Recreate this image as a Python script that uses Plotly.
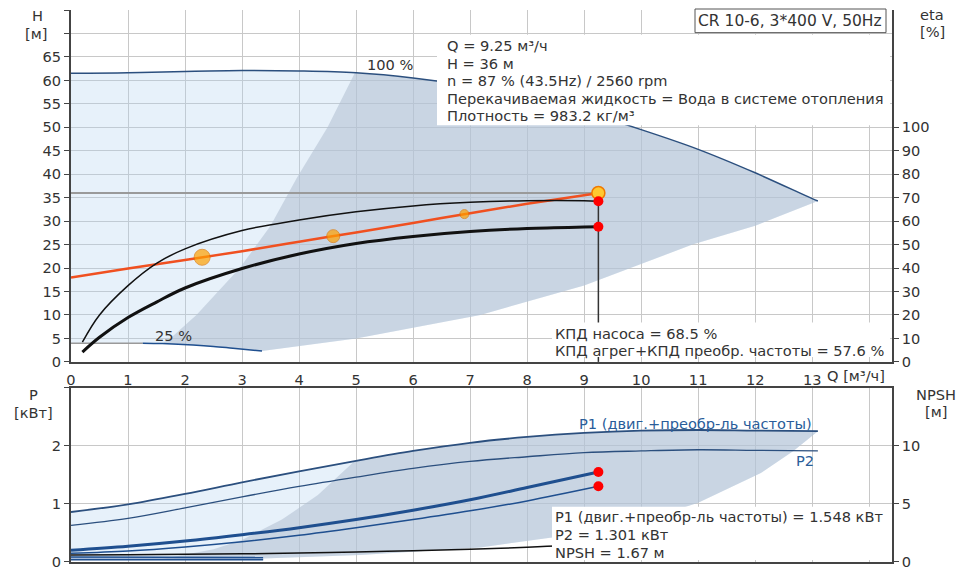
import plotly.graph_objects as go

# ---------------- data ----------------
# Q axis [m3/h]
q_100 = [0, 1, 2, 3, 4, 5, 6, 7, 8, 9, 10, 11, 12, 13, 13.1]
h_100 = [61.5, 61.6, 61.9, 62.1, 62.0, 61.6, 60.5, 58.8, 56.5, 53.3, 49.5, 45.3, 40.3, 34.8, 34.3]

q_25 = [0, 0.5, 1.0, 1.26, 1.6, 2.14, 2.5, 2.84, 3.35]
h_25 = [3.95, 3.97, 4.0, 4.0, 3.9, 3.6, 3.3, 2.9, 2.3]

# left edge of recommended (grey) area, top chart
q_min_edge = [1.6, 1.74, 2.2, 2.96, 3.5, 3.96, 4.5, 4.98]
h_min_edge = [3.9, 5.0, 10.0, 20.0, 29.0, 39.2, 50.0, 61.6]

# lower-right edge of operating area, top chart
q_max_edge = [3.35, 5.0, 7.18, 9.0, 10.9, 12.0, 13.1]
h_max_edge = [2.3, 5.0, 10.0, 16.3, 25.0, 29.0, 34.3]

# efficiency curves [%]
q_eta = [0.2, 0.5, 1, 1.5, 2, 3, 4, 5, 6, 7, 8, 9, 9.25]
eta_pump = [8.4, 20, 32.5, 42, 48.2, 56, 60.5, 64, 66.5, 68, 68.7, 68.7, 68.5]
eta_total = [4.2, 10.5, 18.9, 25.5, 31.5, 39.8, 46, 50.5, 53.5, 55.6, 56.9, 57.5, 57.6]

# system curve
q_sys = [0, 1, 2, 3, 4, 5, 6, 7, 8, 9, 9.25]
h_sys = [18, 19.9, 21.7, 23.6, 25.6, 27.6, 29.6, 31.7, 33.7, 35.5, 36]
q_sys_mk = [2.3, 4.6, 6.9]
h_sys_mk = [22.3, 26.8, 31.5]
size_sys_mk = [16, 13, 9]

# duty point
q_duty = 9.25
h_duty = 36
eta_pump_duty = 68.5
eta_total_duty = 57.6
p1_duty = 1.548
p2_duty = 1.301
npsh_duty = 1.67

# power curves [kW]
q_p = [0, 1, 2, 3, 4, 5, 6, 7, 8, 9, 10, 11, 12, 13.1]
p1_100 = [0.86, 0.99, 1.17, 1.37, 1.56, 1.74, 1.91, 2.05, 2.15, 2.22, 2.26, 2.27, 2.26, 2.25]
p2_100 = [0.63, 0.75, 0.93, 1.12, 1.30, 1.46, 1.61, 1.73, 1.81, 1.88, 1.91, 1.93, 1.92, 1.91]

q_p87 = [0, 1, 2, 3, 4, 5, 6, 7, 8, 9.25]
p1_87 = [0.2, 0.27, 0.36, 0.47, 0.59, 0.73, 0.89, 1.07, 1.28, 1.548]
p2_87 = [0.15, 0.19, 0.26, 0.35, 0.46, 0.59, 0.73, 0.88, 1.05, 1.301]

q_p25 = [0, 1, 2, 3, 3.37]
p1_25 = [0.085, 0.085, 0.083, 0.08, 0.078]
p2_25 = [0.04, 0.04, 0.04, 0.04, 0.04]

q_pmin_edge = [1.6, 2.5, 3.0, 3.7, 4.33, 4.98]
p_pmin_edge = [0.05, 0.22, 0.38, 0.73, 1.15, 1.74]
q_pmax_edge = [3.37, 5.07, 7.18, 8.5, 10.1, 11, 12.1, 12.67, 13.1]
p_pmax_edge = [0.06, 0.12, 0.25, 0.43, 0.73, 1.02, 1.53, 1.91, 2.25]

q_npsh = [0, 1, 2, 3, 4, 5, 6, 7, 8, 9, 9.25]
npsh = [0.6, 0.62, 0.66, 0.7, 0.77, 0.86, 0.97, 1.1, 1.27, 1.53, 1.67]

q_ticks = list(range(0, 15))
h_ticks = list(range(0, 80, 5))
eta_ticks = list(range(0, 110, 10))

# ---------------- layout helpers ----------------
W, H = 960, 577
ML, MR, MT, MB = 71, 68, 10, 7
PW = W - ML - MR
PH = H - MT - MB


def px(x):
    return (x - ML) / PW


def py(y):
    return (H - MB - y) / PH


FONT = "DejaVu Sans, Verdana, sans-serif"
TXT = "#333333"
FS = 14.6
TFS = 14.6
LIGHT = "rgba(180,210,240,0.32)"
GREY = "rgba(179,193,210,0.58)"
CURVE = "#2b4f7e"
BLUE = "#1f4f8f"
GRID = "#c8c8c8"
SPL = "spline"

fig = go.Figure()

# ---- top chart fills ----
light_q = q_100 + q_max_edge[::-1] + q_25[::-1]
light_h = h_100 + h_max_edge[::-1] + h_25[::-1]
fig.add_trace(go.Scatter(x=light_q, y=light_h, fill="toself", fillcolor=LIGHT,
                         mode="lines", line=dict(width=0), hoverinfo="skip",
                         xaxis="x", yaxis="y"))
top_part_q = [q for q in q_100 if q > q_min_edge[-1]]
top_part_h = [h for q, h in zip(q_100, h_100) if q > q_min_edge[-1]]
bot_part = [(q, h) for q, h in zip(q_25, h_25) if q >= q_min_edge[0]][::-1]
grey_q = q_min_edge + top_part_q + q_max_edge[::-1][1:] + [b[0] for b in bot_part]
grey_h = h_min_edge + top_part_h + h_max_edge[::-1][1:] + [b[1] for b in bot_part]
fig.add_trace(go.Scatter(x=grey_q, y=grey_h, fill="toself", fillcolor=GREY,
                         mode="lines", line=dict(width=0), hoverinfo="skip",
                         xaxis="x", yaxis="y"))

# ---- top chart curves ----
fig.add_trace(go.Scatter(x=q_100, y=h_100, mode="lines",
                         line=dict(color=CURVE, width=1.5, shape=SPL), xaxis="x", yaxis="y"))
q25a = [q for q in q_25 if q <= 1.26]
h25a = [h for q, h in zip(q_25, h_25) if q <= 1.26]
q25b = [q for q in q_25 if q >= 1.26]
h25b = [h for q, h in zip(q_25, h_25) if q >= 1.26]
fig.add_trace(go.Scatter(x=q25a, y=h25a, mode="lines",
                         line=dict(color="#9a9a9a", width=1.5, shape=SPL), xaxis="x", yaxis="y"))
fig.add_trace(go.Scatter(x=q25b, y=h25b, mode="lines",
                         line=dict(color=BLUE, width=1.5, shape=SPL), xaxis="x", yaxis="y"))

# duty point lines
fig.add_trace(go.Scatter(x=[0, q_duty], y=[h_duty, h_duty], mode="lines",
                         line=dict(color="#9a9a9a", width=2), xaxis="x", yaxis="y"))
fig.add_trace(go.Scatter(x=[q_duty, q_duty], y=[h_duty, 0], mode="lines",
                         line=dict(color="#333333", width=1.5), xaxis="x", yaxis="y"))

# efficiency curves
fig.add_trace(go.Scatter(x=q_eta, y=eta_pump, mode="lines",
                         line=dict(color="#111111", width=1.5, shape=SPL), xaxis="x", yaxis="y2"))
fig.add_trace(go.Scatter(x=q_eta, y=eta_total, mode="lines",
                         line=dict(color="#111111", width=3, shape=SPL), xaxis="x", yaxis="y2"))

# system curve
fig.add_trace(go.Scatter(x=q_sys, y=h_sys, mode="lines",
                         line=dict(color="#f05020", width=2.5, shape=SPL), xaxis="x", yaxis="y"))
fig.add_trace(go.Scatter(x=q_sys_mk, y=h_sys_mk, mode="markers",
                         marker=dict(size=size_sys_mk, color="#ffa000",
                                     line=dict(color="#e07800", width=1)),
                         xaxis="x", yaxis="y"))
fig.add_trace(go.Scatter(x=[q_duty], y=[h_duty], mode="markers",
                         marker=dict(size=13, color="#ffc830",
                                     line=dict(color="#f07a00", width=1.5)),
                         xaxis="x", yaxis="y"))
fig.add_trace(go.Scatter(x=[q_duty, q_duty], y=[eta_pump_duty, eta_total_duty], mode="markers",
                         marker=dict(size=10, color="#ff0000"), xaxis="x", yaxis="y2"))

# ---- bottom chart fills ----
lb_q = q_p + q_pmax_edge[::-1][1:] + q_p25[::-1]
lb_p = p1_100 + p_pmax_edge[::-1][1:] + p2_25[::-1]
fig.add_trace(go.Scatter(x=lb_q, y=lb_p, fill="toself", fillcolor=LIGHT,
                         mode="lines", line=dict(width=0), hoverinfo="skip",
                         xaxis="x2", yaxis="y3"))
gtop_q = [q for q in q_p if q > q_pmin_edge[-1]]
gtop_p = [p for q, p in zip(q_p, p1_100) if q > q_pmin_edge[-1]]
gb_q = q_pmin_edge + gtop_q + q_pmax_edge[::-1][1:] + [q_pmin_edge[0]]
gb_p = p_pmin_edge + gtop_p + p_pmax_edge[::-1][1:] + [p2_25[0]]
fig.add_trace(go.Scatter(x=gb_q, y=gb_p, fill="toself", fillcolor=GREY,
                         mode="lines", line=dict(width=0), hoverinfo="skip",
                         xaxis="x2", yaxis="y3"))

# 25% power band
fig.add_trace(go.Scatter(x=q_p25, y=p2_25, mode="lines",
                         line=dict(color=BLUE, width=1.5), xaxis="x2", yaxis="y3"))
fig.add_trace(go.Scatter(x=q_p25, y=p1_25, mode="lines", fill="tonexty",
                         fillcolor="rgba(110,140,190,0.55)",
                         line=dict(color=BLUE, width=1.5), xaxis="x2", yaxis="y3"))

# NPSH
fig.add_trace(go.Scatter(x=q_npsh, y=npsh, mode="lines",
                         line=dict(color="#111111", width=1.5, shape=SPL), xaxis="x2", yaxis="y4"))

# power curves
fig.add_trace(go.Scatter(x=q_p, y=p1_100, mode="lines",
                         line=dict(color=CURVE, width=1.8, shape=SPL), xaxis="x2", yaxis="y3"))
fig.add_trace(go.Scatter(x=q_p, y=p2_100, mode="lines",
                         line=dict(color=CURVE, width=1.3, shape=SPL), xaxis="x2", yaxis="y3"))
fig.add_trace(go.Scatter(x=q_p87, y=p1_87, mode="lines",
                         line=dict(color=BLUE, width=3, shape=SPL), xaxis="x2", yaxis="y3"))
fig.add_trace(go.Scatter(x=q_p87, y=p2_87, mode="lines",
                         line=dict(color=BLUE, width=1.5, shape=SPL), xaxis="x2", yaxis="y3"))
fig.add_trace(go.Scatter(x=[q_duty, q_duty], y=[p1_duty, p2_duty], mode="markers",
                         marker=dict(size=10, color="#ff0000"), xaxis="x2", yaxis="y3"))

# ---------------- axes ----------------
tickfont = dict(family=FONT, size=TFS, color=TXT)
q_text = [str(v) for v in q_ticks[:-1]] + [""]
h_text = [str(v) if v <= 65 else "" for v in h_ticks]

common_x = dict(range=[0, 14.4], tickvals=q_ticks, showgrid=True, gridcolor=GRID,
                gridwidth=1, zeroline=False, showline=True, linecolor="#444444",
                linewidth=2, ticks="", tickfont=tickfont, fixedrange=True)

fig.update_layout(
    width=W, height=H,
    margin=dict(l=ML, r=MR, t=MT, b=MB, pad=0),
    paper_bgcolor="white", plot_bgcolor="white",
    showlegend=False,
    font=dict(family=FONT, size=FS, color=TXT),
    xaxis=dict(common_x, domain=[0, 1], anchor="y", ticktext=q_text, ticklabelstandoff=4),
    yaxis=dict(domain=[py(367), 1], range=[0, 75], tickvals=h_ticks, ticktext=h_text,
               showgrid=True, gridcolor=GRID, zeroline=False, showline=True,
               linecolor="#444444", linewidth=2, ticks="outside", ticklen=5,
               tickcolor="#444444", tickfont=tickfont, anchor="x"),
    yaxis2=dict(overlaying="y", side="right", range=[0, 150], tickvals=eta_ticks,
                showgrid=False, zeroline=False, showline=True, linecolor="#444444",
                linewidth=1.5, ticks="outside", ticklen=5, tickcolor="#444444",
                tickfont=tickfont, anchor="x"),
    xaxis2=dict(common_x, domain=[0, 1], anchor="y3", showticklabels=False, mirror=True),
    yaxis3=dict(domain=[0, py(393)], range=[0, 3], tickvals=[0, 1, 2, 3],
                ticktext=["0", "1", "2", ""], showgrid=True, gridcolor=GRID,
                zeroline=False, showline=True, linecolor="#444444", linewidth=2,
                ticks="outside", ticklen=5, tickcolor="#444444", tickfont=tickfont,
                anchor="x2"),
    yaxis4=dict(overlaying="y3", side="right", range=[0, 15], tickvals=[0, 5, 10],
                showgrid=False, zeroline=False, showline=True, linecolor="#444444",
                linewidth=1.5, ticks="outside", ticklen=5, tickcolor="#444444",
                tickfont=tickfont, anchor="x2"),
)

# ---------------- white boxes ----------------
def box(x0, y0, x1, y1, border=False):
    fig.add_shape(type="rect", xref="paper", yref="paper",
                  x0=px(x0), x1=px(x1), y0=py(y1), y1=py(y0),
                  fillcolor="white", layer="above",
                  line=dict(color="#555555", width=1) if border else dict(width=0))


box(695, 9, 886, 33, border=True)
box(437, 35, 890, 127)
box(552, 327, 890, 362)
box(552, 514, 890, 568)


def label(text, x, y, anchor="left", color=TXT, size=FS):
    fig.add_annotation(text=text, xref="paper", yref="paper", x=px(x), y=py(y),
                       xanchor=anchor, yanchor="middle", showarrow=False,
                       font=dict(family=FONT, size=size, color=color))


label("CR 10-6, 3*400 V, 50Hz", 790, 21, anchor="center", size=15.5)
info = ["Q = 9.25 м³/ч", "H = 36 м", "n = 87 % (43.5Hz) / 2560 rpm",
        "Перекачиваемая жидкость = Вода в системе отопления",
        "Плотность = 983.2 кг/м³"]
for i, t in enumerate(info):
    label(t, 445, 46 + i * 17.8)
label("КПД насоса = 68.5 %", 553, 338)
label("КПД агрег+КПД преобр. частоты = 57.6 %", 553, 355)
label("P1 (двиг.+преобр-ль частоты) = 1.548 кВт", 553, 524)
label("P2 = 1.301 кВт", 553, 542)
label("NPSH = 1.67 м", 553, 560)

# axis titles
label("H", 37, 16, anchor="center")
label("[м]", 36, 34, anchor="center")
label("eta", 932, 15, anchor="center")
label("[%]", 932, 32, anchor="center")
label("P", 33, 400, anchor="center")
label("[кВт]", 33, 418, anchor="center")
label("NPSH", 936, 400, anchor="center")
label("[м]", 936, 417, anchor="center")
label("Q [м³/ч]", 825, 381)

# curve labels (data coordinates)
fig.add_annotation(text="100 %", x=5.6, y=63.3, xref="x", yref="y", showarrow=False,
                   font=dict(family=FONT, size=FS, color=TXT))
fig.add_annotation(text="25 %", x=1.79, y=5.7, xref="x", yref="y", showarrow=False,
                   font=dict(family=FONT, size=FS, color=TXT))
fig.add_annotation(text="P1 (двиг.+преобр-ль частоты)", x=10.96, y=2.39, xref="x2", yref="y3",
                   showarrow=False, font=dict(family=FONT, size=FS, color="#2a5d9a"))
fig.add_annotation(text="P2", x=12.88, y=1.75, xref="x2", yref="y3",
                   showarrow=False, font=dict(family=FONT, size=FS, color="#2a5d9a"))

fig.write_html("out.html", config={"displayModeBar": False},
               post_script="document.body.style.margin='0';")
